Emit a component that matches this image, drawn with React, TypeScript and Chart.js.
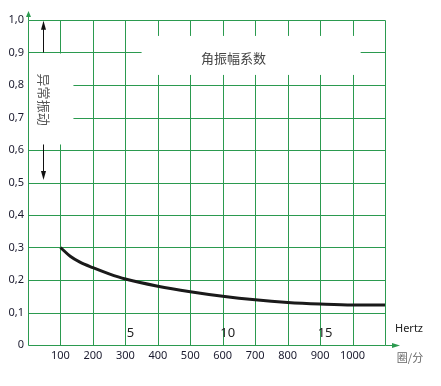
import React, { useEffect, useRef } from "react";
import { Chart, registerables } from "chart.js";

Chart.register(...registerables);

const rpm = [100, 130, 160, 200, 250, 300, 400, 500, 600, 700, 800, 900, 1000, 1100];
const coefficient = [0.3, 0.273, 0.255, 0.238, 0.219, 0.203, 0.181, 0.164, 0.15, 0.139, 0.131, 0.126, 0.123, 0.123];
const xTicks = [0, 100, 200, 300, 400, 500, 600, 700, 800, 900, 1000, 1100];
const yTicks = [0, 0.1, 0.2, 0.3, 0.4, 0.5, 0.6, 0.7, 0.8, 0.9, 1.0];
const hertzMarks = [5, 10, 15];
const titleText = "角振幅系数";
const sideText = "异常振动";
const hertzLabel = "Hertz";
const rpmLabel = "圈/分";

const GREEN = "#2b9a4f";
const FONT = "'Noto Sans', 'Open Sans', sans-serif";
const CJK = "'Noto Sans CJK SC', sans-serif";

function arrowHead(ctx: CanvasRenderingContext2D, x: number, y: number, dir: "up" | "down" | "right", len: number, half: number) {
  ctx.beginPath();
  if (dir === "up") {
    ctx.moveTo(x, y);
    ctx.lineTo(x - half, y + len);
    ctx.lineTo(x + half, y + len);
  } else if (dir === "down") {
    ctx.moveTo(x, y);
    ctx.lineTo(x - half, y - len);
    ctx.lineTo(x + half, y - len);
  } else {
    ctx.moveTo(x, y);
    ctx.lineTo(x - len, y - half);
    ctx.lineTo(x - len, y + half);
  }
  ctx.closePath();
  ctx.fill();
}

const crisp = (v: number) => Math.round(v) + 0.5;

const overlay = {
  id: "overlay",
  beforeDatasetsDraw(chart: any) {
    const ctx: CanvasRenderingContext2D = chart.ctx;
    const xs = chart.scales.x;
    const ys = chart.scales.y;
    const area = chart.chartArea;
    ctx.save();
    // grid
    ctx.strokeStyle = GREEN;
    ctx.lineWidth = 1;
    ctx.beginPath();
    const top = crisp(ys.getPixelForValue(1));
    const bottom = crisp(ys.getPixelForValue(0));
    const left = crisp(xs.getPixelForValue(0));
    const right = crisp(xs.getPixelForValue(1100));
    for (const t of xTicks) {
      const px = crisp(xs.getPixelForValue(t));
      ctx.moveTo(px, top);
      ctx.lineTo(px, bottom);
    }
    for (const t of yTicks) {
      const py = crisp(ys.getPixelForValue(t));
      ctx.moveTo(left, py);
      ctx.lineTo(right, py);
    }
    ctx.stroke();

    ctx.fillStyle = "#ffffff";
    // title box
    const tx1 = xs.getPixelForValue(350);
    const tx2 = xs.getPixelForValue(1025);
    const ty1 = ys.getPixelForValue(0.951);
    const ty2 = ys.getPixelForValue(0.831);
    ctx.fillRect(tx1, ty1, tx2 - tx1, ty2 - ty1);
    // side box
    const sx1 = left + 0.5;
    const sx2 = xs.getPixelForValue(140);
    const sy1 = ys.getPixelForValue(0.897);
    const sy2 = ys.getPixelForValue(0.617);
    ctx.fillRect(sx1, sy1, sx2 - sx1, sy2 - sy1);

    // axis arrows
    ctx.fillStyle = GREEN;
    ctx.beginPath();
    ctx.moveTo(right, bottom);
    ctx.lineTo(area.right + 8, bottom);
    ctx.moveTo(left, top);
    ctx.lineTo(left, area.top - 4);
    ctx.stroke();
    arrowHead(ctx, area.right + 15, bottom, "right", 8, 2.5);
    arrowHead(ctx, left, area.top - 9, "up", 6, 2.5);
    ctx.restore();
  },
  afterDraw(chart: any) {
    const ctx: CanvasRenderingContext2D = chart.ctx;
    const xs = chart.scales.x;
    const ys = chart.scales.y;
    const area = chart.chartArea;
    ctx.save();

    // black arrows of the side label
    const ax = crisp(xs.getPixelForValue(47));
    ctx.strokeStyle = "#111";
    ctx.fillStyle = "#111";
    ctx.lineWidth = 1;
    ctx.beginPath();
    ctx.moveTo(ax, ys.getPixelForValue(0.9));
    ctx.lineTo(ax, ys.getPixelForValue(0.99));
    ctx.stroke();
    arrowHead(ctx, ax, ys.getPixelForValue(0.998), "up", 9, 2.5);
    ctx.beginPath();
    ctx.moveTo(ax, ys.getPixelForValue(0.617));
    ctx.lineTo(ax, ys.getPixelForValue(0.52));
    ctx.stroke();
    arrowHead(ctx, ax, ys.getPixelForValue(0.508), "down", 9, 2.5);

    // side vertical text
    ctx.fillStyle = "#555";
    ctx.font = `13px ${CJK}`;
    ctx.textAlign = "center";
    ctx.textBaseline = "middle";
    ctx.save();
    ctx.translate(ax, ys.getPixelForValue(0.755));
    ctx.rotate(Math.PI / 2);
    ctx.fillText(sideText, 0, 0);
    ctx.restore();

    // title
    ctx.fillStyle = "#444";
    ctx.font = `13px ${CJK}`;
    ctx.fillText(titleText, xs.getPixelForValue(633), ys.getPixelForValue(0.884));

    // hertz marks
    ctx.fillStyle = "#222";
    ctx.font = `13px ${FONT}`;
    for (const hz of hertzMarks) {
      ctx.fillText(String(hz), xs.getPixelForValue(hz * 60) + 5, ys.getPixelForValue(0.036));
    }
    ctx.font = `11px ${FONT}`;
    ctx.fillText(hertzLabel, area.right + 24, ys.getPixelForValue(0.05));
    ctx.fillStyle = "#666";
    ctx.font = `11px ${CJK}`;
    ctx.fillText(rpmLabel, area.right + 25, area.bottom + 13);
    ctx.restore();
  },
};

export default function App() {
  const ref = useRef<HTMLCanvasElement>(null);
  useEffect(() => {
    document.body.style.margin = "0";
    const canvas = ref.current!;
    const chart = new Chart(canvas, {
      type: "line",
      data: {
        datasets: [
          {
            data: rpm.map((r, i) => ({ x: r, y: coefficient[i] })),
            borderColor: "#1a1a1a",
            borderWidth: 3,
            pointRadius: 0,
            cubicInterpolationMode: "monotone",
            fill: false,
          },
        ],
      },
      options: {
        responsive: false,
        animation: false,
        layout: { padding: { top: 20, right: 56, left: 0, bottom: 0 } },
        plugins: { legend: { display: false }, tooltip: { enabled: false } },
        scales: {
          x: {
            type: "linear",
            min: 0,
            max: 1100,
            afterFit: (axis: any) => {
              axis.height = 41;
            },
            ticks: {
              stepSize: 100,
              autoSkip: false,
              maxRotation: 0,
              padding: 4,
              color: "#1a1a2e",
              font: { size: 11, family: FONT },
              callback: (v: any) => (v === 0 || v === 1100 ? "" : String(v)),
            },
            grid: { display: false, drawTicks: false },
            border: { display: false },
          },
          y: {
            min: 0,
            max: 1,
            afterFit: (axis: any) => {
              axis.width = 28;
            },
            ticks: {
              stepSize: 0.1,
              padding: 4,
              color: "#1a1a2e",
              font: { size: 11, family: FONT },
              callback: (v: any) => (v === 0 ? "0" : Number(v).toFixed(1).replace(".", ",")),
            },
            grid: { display: false, drawTicks: false },
            border: { display: false },
          },
        },
      },
      plugins: [overlay],
    });
    return () => chart.destroy();
  }, []);
  return <canvas ref={ref} width={441} height={386} style={{ display: "block" }} />;
}
